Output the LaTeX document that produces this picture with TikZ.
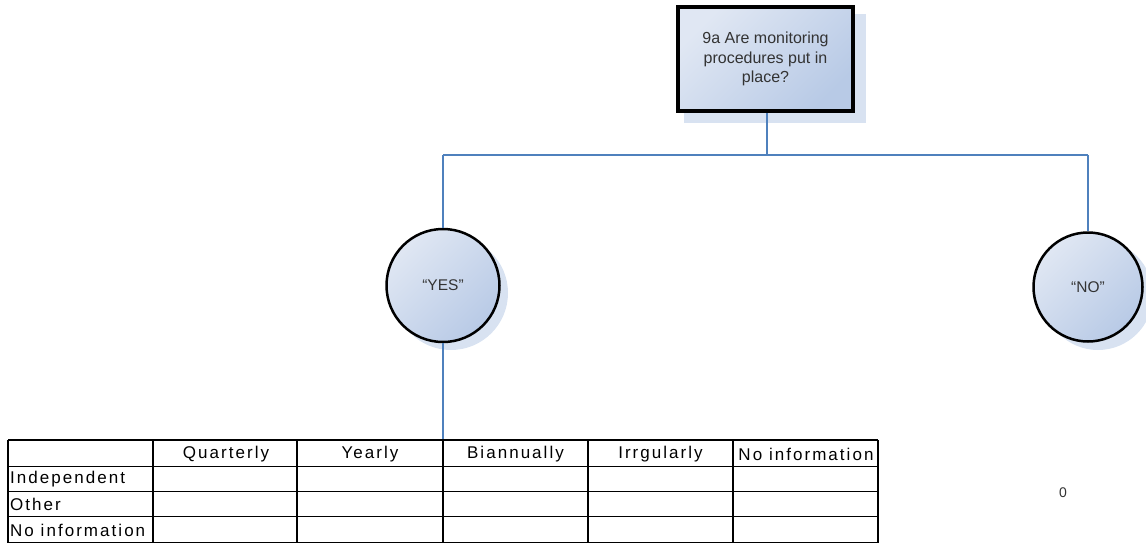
\documentclass[tikz,border=0pt]{standalone}
\usepackage{fontspec}
\setmainfont{Liberation Sans}
\newfontfamily\tabfont[LetterSpace=12]{Liberation Sans}
\definecolor{cblue}{HTML}{4F81BD}
\definecolor{fillA}{HTML}{E0E7F3}
\definecolor{fillB}{HTML}{B8CAE6}
\definecolor{shadc}{HTML}{D8E2F1}
\begin{document}
\begin{tikzpicture}[x=1pt,y=-1pt,
  conn/.style={draw=cblue, line width=2pt},
  qbox/.style={rectangle, draw=black, line width=4pt, minimum width=175pt, minimum height=104pt,
    shading=axis, left color=fillA, right color=fillB, shading angle=45,
    align=center, font=\fontsize{16}{19.5}\selectfont, inner sep=0pt, text=black!80},
  ans/.style={circle, draw=black, line width=2.5pt, minimum size=113pt, inner sep=0pt,
    shading=axis, left color=fillA, right color=fillB, shading angle=45,
    font=\fontsize{15.5}{18}\selectfont, text=black!80},
  shad/.style={fill=shadc, draw=none},
  grid/.style={line width=1.5pt, draw=black},
  hcell/.style={font=\tabfont\fontsize{17}{20}\selectfont, inner sep=0pt, anchor=center},
  rcell/.style={font=\tabfont\fontsize{17}{20}\selectfont, inner sep=0pt, anchor=west}
]
\useasboundingbox (0,0) rectangle (1146,544);
% shadows
\fill[shad] (684,14) rectangle (866,123);
\fill[shad] (451,293) circle (57);
\fill[shad] (1098,295) circle (55);
% question box
\node[qbox] (q) at (765.5,59) {9a Are monitoring\\procedures put in\\place?};
% answers
\node[ans] (yes) at (443,285.5) {``YES''};
\node[ans, minimum size=109pt] (no) at (1088,287) {``NO''};
% junction
\coordinate (j) at (767,155);
\coordinate (jy) at (443,155);
\coordinate (jn) at (1088,155);
\coordinate (t) at (443,440);
\draw[conn] (q.south -| j) -- (j);
\draw[conn] (jy) -- (jn);
\draw[conn] (jy) -- (yes.north);
\draw[conn] (jn) -- (no.north);
\draw[conn] (yes.south) -- (t);
% table
\foreach \y in {440,466.5,491.5,516.5,542.5} \draw[grid] (8,\y) -- (878,\y);
\foreach \x in {8,153,297,443,588,733,878} \draw[grid] (\x,440) -- (\x,542.5);
\node[hcell] (h1) at (226,454) {Quarterly};
\node[hcell] (h2) at (370,454) {Yearly};
\node[hcell] (h3) at (515.5,454) {Biannually};
\node[hcell] (h4) at (660.5,454) {Irrgularly};
\node[hcell] (h5) at (806,454) {No information};
\node[rcell] (r1) at (10,479.5) {Independent};
\node[rcell] (r2) at (10,504.5) {Other};
\node[rcell] (r3) at (10,530) {No information};
\node[font=\fontsize{14}{16}\selectfont, text=black!80] (zero) at (1063,493) {0};
\end{tikzpicture}
\end{document}
